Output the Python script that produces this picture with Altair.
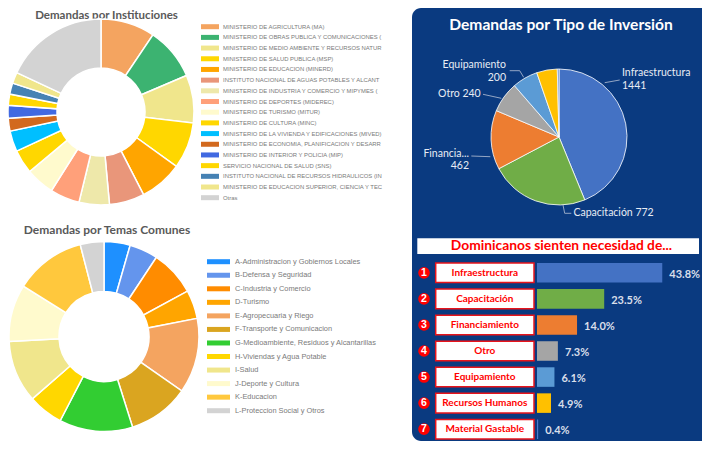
import altair as alt
import pandas as pd

# ---------------- data ----------------
inst_labels = [
    "MINISTERIO DE AGRICULTURA (MA)",
    "MINISTERIO DE OBRAS PUBLICA Y COMUNICACIONES (MOPC)",
    "MINISTERIO DE MEDIO AMBIENTE Y RECURSOS NATURALES (MIMARENA)",
    "MINISTERIO DE SALUD PUBLICA (MSP)",
    "MINISTERIO DE EDUCACION (MINERD)",
    "INSTITUTO NACIONAL DE AGUAS POTABLES Y ALCANTARILLADOS (INAPA)",
    "MINISTERIO DE INDUSTRIA Y COMERCIO Y MIPYMES (MICM)",
    "MINISTERIO DE DEPORTES (MIDEREC)",
    "MINISTERIO DE TURISMO (MITUR)",
    "MINISTERIO DE CULTURA (MINC)",
    "MINISTERIO DE LA VIVIENDA Y EDIFICACIONES (MIVED)",
    "MINISTERIO DE ECONOMIA, PLANIFICACION Y DESARROLLO (MEPYD)",
    "MINISTERIO DE INTERIOR Y POLICIA (MIP)",
    "SERVICIO NACIONAL DE SALUD (SNS)",
    "INSTITUTO NACIONAL DE RECURSOS HIDRAULICOS (INDRHI)",
    "MINISTERIO DE EDUCACION SUPERIOR, CIENCIA Y TECNOLOGIA (MESCYT)",
    "Otras",
]
inst_values = [34, 33, 30, 29, 27, 22, 19, 18.5, 18, 15, 13, 8, 8, 7, 7, 7, 65]
inst_colors = ["#F4A460", "#3CB371", "#F0E68C", "#FFD700", "#FFA500", "#E9967A",
               "#EEE8AA", "#FFA07A", "#FFFACD", "#FFD700", "#00BFFF", "#D2691E",
               "#4169E1", "#FFD700", "#4682B4", "#F0E68C", "#D3D3D3"]

tema_labels = [
    "A-Administracion y Gobiernos Locales",
    "B-Defensa y Seguridad",
    "C-Industria y Comercio",
    "D-Turismo",
    "E-Agropecuaria y Riego",
    "F-Transporte y Comunicacion",
    "G-Medioambiente, Residuos y Alcantarillas",
    "H-Viviendas y Agua Potable",
    "I-Salud",
    "J-Deporte y Cultura",
    "K-Educacion",
    "L-Proteccion Social y Otros",
]
tema_values = [16, 17.5, 28, 17.5, 46, 37.5, 45, 21.5, 38, 35, 43.5, 14.5]
tema_colors = ["#1E90FF", "#6495ED", "#FF8C00", "#FFA500", "#F4A460", "#DAA520",
               "#32CD32", "#FFD700", "#F0E68C", "#FFFACD", "#FFC83D", "#D3D3D3"]

tipo_labels = ["Infraestructura", "Capacitación", "Financiamiento", "Otro",
               "Equipamiento", "Recursos Humanos", "Material Gastable"]
tipo_values = [1441, 772, 462, 240, 200, 161, 13]
tipo_pct = [43.8, 23.5, 14.0, 7.3, 6.1, 4.9, 0.4]
tipo_colors = ["#4472C4", "#70AD47", "#ED7D31", "#A5A5A5", "#5B9BD5", "#FFC000", "#4E79C8"]
tipo_rank = ["1", "2", "3", "4", "5", "6", "7"]

# pie label texts (Excel style outside labels)
pie_label_left = ["Infraestructura", "1441", "Capacitación 772", "Otro 240"]
pie_label_right = ["Equipamiento", "200", "Financia...", "462"]

# ---------------- layout ----------------
W, H = 694, 433
PANEL = "#0A3A80"
TITLE_FONT = "Lato"
LEG_FONT = "Liberation Sans"

pos_left = [(614, 65), (614, 78), (565.5, 205), (430, 86)]
pos_right = [(498, 57), (498, 69.5), (461, 146), (461, 157.5)]
leaders = [
    (596.7, 74.7, 611.7, 72),
    (555, 197, 556.7, 205.3), (556.7, 205.3, 563.3, 205.3),
    (463.3, 148, 482.3, 148.7),
    (475, 86.3, 493.3, 90.3),
    (501.7, 62.7, 511.7, 62.7), (511.7, 62.7, 515.7, 69.3),
]

XS = alt.Scale(domain=[0, W], range=[0, W])
YS = alt.Scale(domain=[0, H], range=[0, H])

one = pd.DataFrame({"a": [0]})


def donut(labels, values, colors, cx, cy, r_out, r_in):
    df = pd.DataFrame({"label": labels, "value": values, "color": colors,
                       "idx": list(range(len(labels)))})
    return alt.Chart(df).mark_arc(outerRadius=r_out, innerRadius=r_in,
                                  stroke="white", strokeWidth=1.5).encode(
        theta=alt.Theta("value:Q", stack=True),
        color=alt.Color("color:N", scale=None),
        order=alt.Order("idx:Q"),
        x=alt.value(cx), y=alt.value(cy),
    )


def legend(labels, colors, x_sw, sw_w, sw_h, x_txt, y0, y1, fsize, limit):
    df = pd.DataFrame({"label": labels, "color": colors,
                       "idx": list(range(len(labels)))})
    ys = alt.Scale(domain=[0, len(labels) - 1], range=[y0, y1])
    sw = alt.Chart(df).mark_tick(orient="horizontal", size=sw_w, thickness=sw_h,
                                 opacity=1).encode(
        x=alt.value(x_sw),
        y=alt.Y("idx:Q", scale=ys, axis=None),
        color=alt.Color("color:N", scale=None),
    )
    tx = alt.Chart(df).mark_text(align="left", baseline="middle", font=LEG_FONT,
                                 fontSize=fsize, color="#7a7a7a", limit=limit,
                                 ellipsis="\u200b").encode(
        x=alt.value(x_txt),
        y=alt.Y("idx:Q", scale=ys, axis=None),
        text="label:N",
    )
    return [sw, tx]


def title(txt, x, y, size, color, font=TITLE_FONT):
    return alt.Chart(one).mark_text(text=txt, font=font, fontSize=size,
                                    fontWeight="bold", color=color,
                                    align="center", baseline="middle").encode(
        x=alt.value(x), y=alt.value(y))


layers = []

# right panel background
layers.append(alt.Chart(one).mark_rect(color=PANEL, cornerRadius=9).encode(
    x=alt.value(404), x2=alt.value(720), y=alt.value(0), y2=alt.value(433)))

# ---- Demandas por Instituciones ----
layers.append(title("Demandas por Instituciones", 98.5, 7.5, 11.5, "#595959"))
layers.append(donut(inst_labels, inst_values, inst_colors, 93, 104, 93, 44))
layers += legend(inst_labels, inst_colors, 202, 18, 5, 215, 18.7, 189.7, 5.9, 160)

# ---- Demandas por Temas Comunes ----
layers.append(title("Demandas por Temas Comunes", 99, 221.7, 12, "#595959"))
layers.append(donut(tema_labels, tema_values, tema_colors, 96, 328.5, 95, 45))
layers += legend(tema_labels, tema_colors, 210.5, 23, 5, 227, 253.7, 402.7, 7.4, 200)

# ---- Demandas por Tipo de Inversion ----
layers.append(title("Demandas por Tipo de Inversión", 553, 17, 15.6, "white"))
pie_df = pd.DataFrame({"label": tipo_labels, "value": tipo_values,
                       "color": tipo_colors, "idx": list(range(len(tipo_labels)))})
layers.append(alt.Chart(pie_df).mark_arc(outerRadius=68, stroke="white",
                                         strokeWidth=0.8).encode(
    theta=alt.Theta("value:Q", stack=True),
    color=alt.Color("color:N", scale=None),
    order=alt.Order("idx:Q"),
    x=alt.value(551), y=alt.value(129)))

lead_df = pd.DataFrame(leaders, columns=["x", "y", "x2", "y2"])
layers.append(alt.Chart(lead_df).mark_rule(color="#B8C2D6", strokeWidth=0.8).encode(
    x=alt.X("x:Q", scale=XS, axis=None), y=alt.Y("y:Q", scale=YS, axis=None),
    x2="x2:Q", y2="y2:Q"))

ll = pd.DataFrame({"t": pie_label_left, "x": [p[0] for p in pos_left],
                   "y": [p[1] for p in pos_left]})
lr = pd.DataFrame({"t": pie_label_right, "x": [p[0] for p in pos_right],
                   "y": [p[1] for p in pos_right]})
for d, al in ((ll, "left"), (lr, "right")):
    layers.append(alt.Chart(d).mark_text(align=al, baseline="middle", font="Lato",
                                         fontSize=10.5, color="#E8ECF4").encode(
        x=alt.X("x:Q", scale=XS, axis=None), y=alt.Y("y:Q", scale=YS, axis=None),
        text="t:N"))

# ---- Dominicanos sienten necesidad de... ----
layers.append(alt.Chart(one).mark_rect(color="white").encode(
    x=alt.value(409.3), x2=alt.value(691), y=alt.value(230.3), y2=alt.value(246)))
layers.append(title("Dominicanos sienten necesidad de...", 553.5, 238, 13.8, "#FF0000"))

bar_df = pd.DataFrame({"cat": tipo_labels, "pct": tipo_pct, "color": tipo_colors,
                       "rank": tipo_rank,
                       "pct_label": [f"{v:.1f}%" for v in tipo_pct]})
BY = alt.Y("cat:N", sort=tipo_labels, axis=None,
           scale=alt.Scale(domain=tipo_labels, range=[251.8, 434.2],
                           paddingInner=0.25, paddingOuter=0.125))
BX = alt.Scale(domain=[0, 50], range=[529, 672])
bc = alt.Chart(bar_df)

layers.append(bc.mark_rect(fill="white", stroke="#E8141B", strokeWidth=1.5).encode(
    x=alt.value(427.7), x2=alt.value(526), y=BY))
layers.append(bc.mark_text(font="Lato", fontWeight="bold", fontSize=10,
                           color="#FF0000", align="center", baseline="middle").encode(
    x=alt.value(476.8), y=BY, text="cat:N"))
layers.append(bc.mark_circle(size=135, color="#FF0000", opacity=1).encode(
    x=alt.value(416), y=BY))
layers.append(bc.mark_text(font=LEG_FONT, fontWeight="bold", fontSize=10.5,
                           color="white", align="center", baseline="middle").encode(
    x=alt.value(416), y=BY, text="rank:N"))
layers.append(bc.mark_bar().encode(
    x=alt.X("pct:Q", scale=BX, axis=None), y=BY,
    color=alt.Color("color:N", scale=None)))
layers.append(bc.mark_text(font="Lato", fontWeight="bold", fontSize=11,
                           color="#D9DFEA", align="left", baseline="middle",
                           dx=7, dy=2).encode(
    x=alt.X("pct:Q", scale=BX, axis=None), y=BY,
    text="pct_label:N",
))

chart = alt.layer(*layers).resolve_scale(
    x="independent", y="independent", theta="independent", color="independent"
).properties(
    width=W, height=H, padding=0, autosize=alt.AutoSizeParams(type="none"),
    background="white",
).configure_view(stroke=None)

chart.save("out.html", embed_options={"renderer": "svg", "actions": False})
